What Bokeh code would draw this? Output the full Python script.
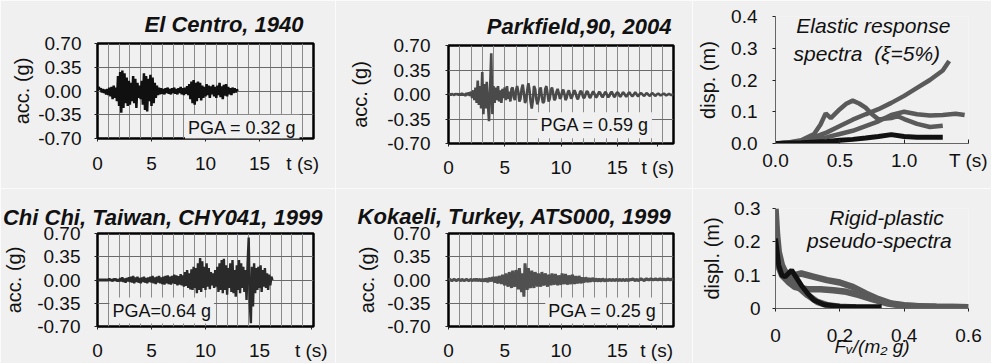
import numpy as np
from bokeh.plotting import figure
from bokeh.layouts import column, row
from bokeh.models import FixedTicker, Label, Range1d, PrintfTickFormatter
from bokeh.embed import file_html
from bokeh.resources import INLINE

FONT = "Liberation Sans"
BG = "#f0f0f0"

# ---------------- accelerograms (g), sampled every DT seconds ----------------
DT = 0.1
el_centro = [
    0.00, 0.06, 0.02, 0.04, -0.02, 0.03, -0.03, 0.02, -0.05, 0.03,
    -0.06, 0.05, -0.08, 0.06, -0.12, 0.08, -0.10, 0.05, -0.15, 0.22,
    -0.22, 0.28, -0.32, 0.30, -0.25, 0.26, -0.18, 0.20, -0.22, 0.15,
    -0.20, 0.12, -0.15, 0.22, -0.18, 0.18, -0.25, 0.12, -0.10, 0.08,
    -0.12, 0.15, -0.20, 0.26, -0.28, 0.22, -0.30, 0.18, -0.15, 0.24,
    -0.22, 0.20, -0.18, 0.12, -0.10, 0.08, -0.06, 0.05, -0.05, 0.04,
    -0.04, 0.03, -0.05, 0.04, -0.03, 0.05, -0.04, 0.03, -0.05, 0.04,
    -0.03, 0.05, -0.04, 0.03, -0.05, 0.04, -0.03, 0.06, -0.05, 0.04,
    -0.06, 0.05, -0.04, 0.07, -0.06, 0.10, -0.12, 0.14, -0.18, 0.16,
    -0.20, 0.12, -0.15, 0.14, -0.10, 0.12, -0.14, 0.08, -0.10, 0.06,
    -0.08, 0.10, -0.06, 0.08, -0.10, 0.07, -0.05, 0.09, -0.08, 0.06,
    -0.10, 0.08, -0.06, 0.12, -0.09, 0.07, -0.12, 0.09, -0.07, 0.10,
    -0.08, 0.06, -0.05, 0.04, -0.06, 0.05, -0.03, 0.04, -0.02, 0.02,
    0.00,
]
parkfield = [
    0.00, 0.01, -0.01, 0.01, 0.00, -0.01, 0.01, 0.00, 0.01, -0.01,
    0.01, -0.01, 0.02, -0.01, 0.01, -0.02, 0.02, -0.01, 0.03, -0.02,
    0.04, -0.05, 0.06, -0.08, 0.10, -0.12, 0.20, -0.15, 0.12, -0.20,
    0.32, -0.28, 0.15, -0.20, 0.18, -0.12, -0.38, 0.10, 0.59, -0.28,
    0.12, -0.12, 0.10, -0.08, 0.12, -0.10, 0.06, -0.12, 0.08, -0.05,
    0.10, -0.08, 0.12, -0.06, 0.04, -0.10, 0.08, 0.10, -0.04, -0.08,
    0.06, 0.12, 0.04, -0.10, -0.06, 0.08, 0.14, 0.02, -0.12, -0.08,
    0.06, 0.16, 0.06, -0.10, -0.20, -0.08, 0.12, 0.08, -0.06, -0.14,
    -0.08, 0.06, 0.10, -0.04, -0.12, -0.10, 0.08, 0.12, 0.02, -0.10,
    -0.06, 0.06, 0.10, 0.02, -0.08, -0.06, 0.04, 0.08, 0.02, -0.06,
    -0.04, 0.04, 0.07, 0.01, -0.08, -0.05, 0.03, 0.06, 0.00, -0.06,
    -0.03, 0.03, 0.06, 0.02, -0.04, -0.07, -0.02, 0.04, 0.05, 0.00,
    -0.05, -0.04, 0.01, 0.05, 0.03, -0.03, -0.05, -0.01, 0.03, 0.04,
    0.00, -0.04, -0.03, 0.01, 0.04, 0.02, -0.02, -0.04, -0.01, 0.03,
    0.03, -0.01, -0.04, -0.02, 0.02, 0.04, 0.01, -0.03, -0.03, 0.01,
    0.03, 0.02, -0.02, -0.03, 0.00, 0.03, 0.02, -0.01, -0.03, -0.01,
    0.02, 0.03, 0.00, -0.02, -0.02, 0.01, 0.03, 0.01, -0.02, -0.02,
    0.01, 0.02, 0.01, -0.01, -0.02, 0.00, 0.02, 0.01, -0.01, -0.02,
    0.00, 0.02, 0.01, -0.01, -0.02, 0.00, 0.01, 0.01, -0.01, -0.01,
    0.00, 0.01, 0.01, -0.01, -0.01, 0.00, 0.01, 0.00, -0.01, 0.00,
    0.00,
]
chi_chi = [
    0.00, 0.01, -0.01, 0.01, -0.01, 0.01, -0.01, 0.01, -0.01, 0.01,
    -0.01, 0.02, -0.01, 0.01, -0.02, 0.02, -0.01, 0.02, -0.02, 0.01,
    -0.02, 0.03, -0.02, 0.04, -0.03, 0.02, -0.04, 0.03, -0.02, 0.04,
    -0.03, 0.05, -0.04, 0.06, -0.05, 0.04, -0.03, 0.05, -0.04, 0.03,
    -0.05, 0.04, -0.03, 0.05, -0.04, 0.03, -0.05, 0.04, -0.03, 0.05,
    -0.04, 0.06, -0.05, 0.04, -0.06, 0.05, -0.04, 0.06, -0.05, 0.04,
    -0.06, 0.05, -0.07, 0.06, -0.05, 0.07, -0.06, 0.05, -0.07, 0.06,
    -0.05, 0.08, -0.06, 0.07, -0.08, 0.06, -0.07, 0.09, -0.08, 0.07,
    -0.10, 0.12, -0.09, 0.15, -0.12, 0.10, -0.14, 0.16, -0.15, 0.20,
    -0.12, 0.18, -0.20, 0.25, -0.15, 0.33, -0.18, 0.28, -0.12, 0.20,
    -0.15, 0.25, -0.10, 0.18, -0.14, 0.12, -0.08, 0.10, -0.12, 0.15,
    -0.10, 0.20, -0.18, 0.25, -0.15, 0.30, -0.20, 0.32, -0.15, 0.22,
    -0.22, 0.18, -0.12, 0.25, -0.18, 0.30, -0.20, 0.15, -0.25, 0.22,
    -0.15, 0.30, -0.20, 0.25, -0.12, 0.20, -0.18, 0.15, -0.30, 0.25,
    0.64, -0.35, -0.65, 0.20, -0.40, 0.25, -0.20, 0.18, -0.15, 0.20,
    -0.12, 0.22, -0.18, 0.15, -0.10, 0.18, -0.12, 0.10, -0.15, 0.08,
    -0.08, 0.05, 0.00,
]
kokaeli = [
    0.00, 0.01, 0.00, -0.01, 0.00, 0.01, 0.00, -0.01, 0.00, 0.01,
    0.00, -0.01, 0.01, 0.00, -0.01, 0.00, 0.01, 0.00, -0.01, 0.00,
    0.01, -0.01, 0.00, 0.01, -0.01, 0.02, -0.01, 0.00, 0.01, -0.02,
    0.01, 0.00, -0.02, 0.02, 0.00, -0.03, 0.03, 0.01, -0.02, 0.04,
    0.02, -0.04, 0.05, -0.02, -0.05, 0.06, 0.02, -0.06, 0.08, -0.03,
    -0.08, 0.10, -0.04, -0.10, 0.12, 0.02, -0.12, 0.14, -0.06, -0.10,
    0.15, 0.05, -0.14, 0.18, -0.05, -0.18, 0.10, -0.25, 0.25, 0.06,
    -0.15, 0.18, -0.08, -0.12, 0.14, 0.02, -0.12, 0.12, 0.04, -0.10,
    0.10, -0.02, -0.10, 0.12, -0.04, -0.08, 0.10, 0.00, -0.10, 0.08,
    0.02, -0.08, 0.10, -0.03, -0.07, 0.09, 0.01, -0.08, 0.07, -0.02,
    -0.07, 0.10, -0.02, -0.06, 0.09, 0.00, -0.07, 0.07, -0.01, -0.06,
    0.08, 0.01, -0.06, 0.06, -0.02, -0.05, 0.06, 0.00, -0.05, 0.04,
    -0.02, -0.03, 0.04, 0.00, -0.03, 0.03, -0.01, -0.02, 0.03, 0.00,
    -0.02, 0.02, 0.00, -0.02, 0.02, -0.01, -0.01, 0.02, 0.00, -0.02,
    0.01, 0.00, -0.01, 0.01, 0.00, -0.01, 0.01, 0.00, -0.01, 0.01,
    0.00, -0.01, 0.01, 0.00, -0.01, 0.01, 0.00, -0.01, 0.01, 0.00,
    -0.01, 0.01, 0.00, 0.01, 0.02, 0.00, -0.01, 0.01, 0.00, -0.01,
    0.01, 0.02, 0.01, 0.00, -0.01, 0.01, 0.02, 0.01, 0.00, 0.01,
    0.02, 0.01, 0.00, 0.01, 0.02, 0.01, 0.00, 0.01, 0.02, 0.01,
    0.00, 0.01, 0.01, 0.00, 0.01, 0.02, 0.01, 0.00, 0.01, 0.01,
    0.00,
]
acc_yticks = [-0.70, -0.35, 0.0, 0.35, 0.70]
acc_xticks = [0, 5, 10, 15]
acc_xlabels = ["0", "5", "10", "15"]
grid_seconds = [0, 1, 2, 3, 4, 5, 6, 7, 8, 9, 10, 11, 12, 13, 14, 15, 16, 17, 18, 19, 20]

# ---------------- elastic response spectra (T in s, disp in m) ----------------
spec_a_T = [0.0, 0.1, 0.2, 0.3, 0.4, 0.5, 0.6, 0.7, 0.8, 0.9, 1.0, 1.1, 1.2, 1.3, 1.35]
spec_a_d = [0.0, 0.002, 0.008, 0.02, 0.035, 0.055, 0.075, 0.092, 0.108, 0.128, 0.15, 0.175, 0.2, 0.23, 0.26]
spec_b_T = [0.0, 0.1, 0.2, 0.3, 0.35, 0.39, 0.43, 0.5, 0.55, 0.6, 0.65, 0.7, 0.75, 0.8, 0.9, 0.95, 1.0, 1.1, 1.2, 1.3]
spec_b_d = [0.0, 0.003, 0.01, 0.03, 0.06, 0.095, 0.08, 0.108, 0.125, 0.135, 0.126, 0.113, 0.092, 0.076, 0.08, 0.086, 0.077, 0.062, 0.052, 0.056]
spec_c_T = [0.0, 0.2, 0.3, 0.4, 0.5, 0.6, 0.7, 0.8, 0.9, 1.0, 1.1, 1.2, 1.3, 1.4, 1.47]
spec_c_d = [0.0, 0.005, 0.012, 0.02, 0.03, 0.04, 0.055, 0.07, 0.09, 0.1, 0.092, 0.088, 0.09, 0.094, 0.09]
spec_d_T = [0.0, 0.2, 0.4, 0.5, 0.6, 0.7, 0.8, 0.9, 1.0, 1.1, 1.2, 1.3]
spec_d_d = [0.0, 0.002, 0.006, 0.01, 0.013, 0.017, 0.022, 0.028, 0.022, 0.02, 0.02, 0.02]

# ---------------- rigid-plastic pseudo-spectra (Fy/(m2 g), displ in m) ----------------
rp_g1_F = [0.0, 0.005, 0.01, 0.02, 0.03, 0.05, 0.07, 0.1, 0.13, 0.16, 0.2, 0.25]
rp_g1_d = [0.3, 0.22, 0.17, 0.13, 0.11, 0.085, 0.065, 0.04, 0.02, 0.01, 0.005, 0.003]
rp_g2_F = [0.0, 0.01, 0.02, 0.04, 0.06, 0.08, 0.12, 0.16, 0.2, 0.24, 0.28, 0.32, 0.36, 0.4, 0.45, 0.5, 0.6]
rp_g2_d = [0.2, 0.15, 0.12, 0.1, 0.1, 0.105, 0.095, 0.085, 0.078, 0.065, 0.045, 0.028, 0.015, 0.01, 0.006, 0.005, 0.004]
rp_g3_F = [0.0, 0.02, 0.04, 0.06, 0.08, 0.1, 0.14, 0.18, 0.22, 0.26, 0.3, 0.35, 0.4, 0.5, 0.6]
rp_g3_d = [0.15, 0.1, 0.08, 0.065, 0.06, 0.058, 0.058, 0.055, 0.05, 0.04, 0.028, 0.015, 0.008, 0.005, 0.004]
rp_k_F = [0.0, 0.005, 0.01, 0.02, 0.03, 0.04, 0.05, 0.06, 0.07, 0.08, 0.1, 0.12, 0.15, 0.2, 0.25, 0.33]
rp_k_d = [0.21, 0.17, 0.13, 0.1, 0.095, 0.105, 0.115, 0.1, 0.085, 0.07, 0.045, 0.025, 0.012, 0.006, 0.005, 0.005]

TICK_SIZE = "19px"


def style_axis(ax):
    ax.major_label_text_font = FONT
    ax.major_label_text_font_size = TICK_SIZE
    ax.major_label_text_color = "#111111"
    ax.axis_label_text_font = FONT
    ax.axis_label_text_color = "#111111"
    ax.minor_tick_line_color = None
    ax.major_tick_line_color = "#222222"


def make_accel(title, values, color, lw, w, h, bl, br, bt, bb, tpos, t_off, t_stand,
               x_stand, y_stand, ylab_stand, pga, pga_x, pga_y):
    p = figure(width=w, height=h, x_range=Range1d(0, 20), y_range=Range1d(-0.7, 0.7),
               output_backend="svg", toolbar_location=None,
               min_border_left=bl, min_border_right=br, min_border_top=bt, min_border_bottom=bb,
               background_fill_color=BG, border_fill_color=BG)
    p.outline_line_color = "black"
    p.outline_line_width = 2.5
    p.outline_line_alpha = 1.0
    p.xgrid.ticker = FixedTicker(ticks=grid_seconds)
    p.xgrid.grid_line_color = "#8a8a8a"
    p.ygrid.ticker = FixedTicker(ticks=[-0.35, 0.0, 0.35])
    p.ygrid.grid_line_color = "#6a6a6a"
    t = np.arange(len(values)) * DT
    p.line(t, values, line_color=color, line_width=lw)

    p.title.text = title
    p.title.text_font = FONT
    p.title.text_font_size = "22px"
    p.title.text_font_style = "bold italic"
    p.title.text_color = "#111111"
    p.title.align = "right"
    p.title.offset = t_off
    p.title.standoff = t_stand

    style_axis(p.xaxis)
    style_axis(p.yaxis)
    p.xaxis.ticker = FixedTicker(ticks=acc_xticks + [tpos])
    ov = {k: s for k, s in zip(acc_xticks, acc_xlabels)}
    ov[tpos] = "t (s)"
    p.xaxis.major_label_overrides = ov
    p.xaxis.axis_line_color = None
    p.xaxis.major_tick_out = 3
    p.xaxis.major_tick_in = 0
    p.xaxis.major_label_standoff = x_stand
    p.yaxis.ticker = FixedTicker(ticks=acc_yticks)
    p.yaxis.formatter = PrintfTickFormatter(format="%.2f")
    p.yaxis.axis_line_color = None
    p.yaxis.major_tick_out = 3
    p.yaxis.major_tick_in = 0
    p.yaxis.major_label_standoff = y_stand
    p.yaxis.axis_label = "acc. (g)"
    p.yaxis.axis_label_text_font_size = "20px"
    p.yaxis.axis_label_text_font_style = "normal"
    p.yaxis.axis_label_standoff = ylab_stand

    p.add_layout(Label(x=pga_x, y=pga_y, text=pga, text_font=FONT, text_font_size="18px",
                       text_color="#111111", text_align="left", text_baseline="middle",
                       background_fill_color=BG, background_fill_alpha=1.0, padding=3))
    return p


p1 = make_accel("El Centro, 1940", el_centro, "#101010", 2.5, 335, 188, 94, 22, 43, 50,
                19.0, 10, 13, 11, 13, 2, "PGA = 0.32 g", 8.1, -0.54)
p4 = make_accel("Chi Chi, Taiwan, CHY041, 1999", chi_chi, "#2a2a2a", 2.4, 335, 175, 95, 22, 45, 35,
                19.8, -9, 7, 10, 14, 9, "PGA=0.64 g", 1.1, -0.46)
p2 = make_accel("Parkfield,90, 2004", parkfield, "#4a4a4a", 2.6, 357, 188, 113, 19, 45, 45,
                18.6, 2, 13, 10, 15, 13, "PGA = 0.59 g", 7.9, -0.44)
p5 = make_accel("Kokaeli, Turkey, ATS000, 1999", kokaeli, "#505050", 3.0, 357, 175, 106, 17, 45, 35,
                18.5, 2, 9, 10, 15, 6, "PGA = 0.25 g", 8.6, -0.46)

# ---- elastic spectra ----
GRAY = "#5a5a5a"
p3 = figure(width=299, height=188, x_range=Range1d(0, 1.5), y_range=Range1d(0, 0.4), title=None,
            output_backend="svg", toolbar_location=None,
            min_border_left=78, min_border_right=23, min_border_top=16, min_border_bottom=45,
            background_fill_color=BG, border_fill_color=BG)
p3.outline_line_color = None
p3.grid.visible = False
p3.line(spec_a_T, spec_a_d, line_color=GRAY, line_width=4.5)
p3.line(spec_b_T, spec_b_d, line_color=GRAY, line_width=4.5)
p3.line(spec_c_T, spec_c_d, line_color=GRAY, line_width=4.5)
p3.line(spec_d_T, spec_d_d, line_color="#111111", line_width=5)
style_axis(p3.xaxis)
style_axis(p3.yaxis)
p3.xaxis.ticker = FixedTicker(ticks=[0.0, 0.5, 1.0, 1.5])
p3.xaxis.major_label_overrides = {0.0: "0.0", 0.5: "0.5", 1.0: "1.0", 1.5: "T (s)"}
p3.xaxis.axis_line_color = "#666666"
p3.xaxis.major_tick_in = 4
p3.xaxis.major_tick_out = 0
p3.xaxis.major_label_standoff = 6
p3.yaxis.ticker = FixedTicker(ticks=[0.0, 0.1, 0.2, 0.3, 0.4])
p3.yaxis.major_label_overrides = {0.0: "0.0", 0.1: "0.1", 0.2: "0.2", 0.3: "0.3", 0.4: "0.4"}
p3.yaxis.axis_line_color = "#666666"
p3.yaxis.major_tick_in = 0
p3.yaxis.major_tick_out = 3
p3.yaxis.major_label_standoff = 15
p3.yaxis.axis_label = "disp. (m)"
p3.yaxis.axis_label_text_font_size = "20px"
p3.yaxis.axis_label_text_font_style = "normal"
p3.yaxis.axis_label_standoff = 9
p3.add_layout(Label(x=0.76, y=0.373, text="Elastic response", text_font=FONT, text_font_size="21px",
                    text_font_style="italic", text_color="#111111", text_align="center", text_baseline="middle"))
p3.add_layout(Label(x=0.71, y=0.285, text="spectra\u00a0\u00a0(ξ=5%)", text_font=FONT, text_font_size="21px",
                    text_font_style="italic", text_color="#111111", text_align="center", text_baseline="middle"))

# ---- rigid-plastic pseudo-spectra ----
p6 = figure(width=299, height=175, x_range=Range1d(0, 0.6), y_range=Range1d(0, 0.3), title=None,
            output_backend="svg", toolbar_location=None,
            min_border_left=83, min_border_right=21, min_border_top=20, min_border_bottom=55,
            background_fill_color=BG, border_fill_color=BG)
p6.outline_line_color = None
p6.grid.visible = False
p6.line(rp_g1_F, rp_g1_d, line_color=GRAY, line_width=6.5)
p6.line(rp_g2_F, rp_g2_d, line_color=GRAY, line_width=6.5)
p6.line(rp_g3_F, rp_g3_d, line_color=GRAY, line_width=6.5)
p6.line(rp_k_F, rp_k_d, line_color="#111111", line_width=5)
style_axis(p6.xaxis)
style_axis(p6.yaxis)
p6.xaxis.ticker = FixedTicker(ticks=[0.0, 0.2, 0.4, 0.6])
p6.xaxis.major_label_overrides = {0.0: "0", 0.2: "0.2", 0.4: "0.4", 0.6: "0.6"}
p6.xaxis.axis_line_color = "#666666"
p6.xaxis.major_tick_in = 0
p6.xaxis.major_tick_out = 3
p6.xaxis.major_label_standoff = 17
p6.xaxis.axis_label = "Fᵥ/(m₂ g)"
p6.xaxis.axis_label_text_font_size = "19px"
p6.xaxis.axis_label_text_font_style = "italic"
p6.xaxis.axis_label_standoff = -9
p6.yaxis.ticker = FixedTicker(ticks=[0.0, 0.1, 0.2, 0.3])
p6.yaxis.major_label_overrides = {0.0: "0", 0.1: "0.1", 0.2: "0.2", 0.3: "0.3"}
p6.yaxis.axis_line_color = "#666666"
p6.yaxis.major_tick_in = 0
p6.yaxis.major_tick_out = 3
p6.yaxis.major_label_standoff = 12
p6.yaxis.axis_label = "displ. (m)"
p6.yaxis.axis_label_text_font_size = "20px"
p6.yaxis.axis_label_text_font_style = "normal"
p6.yaxis.axis_label_standoff = 8
p6.add_layout(Label(x=0.345, y=0.272, text="Rigid-plastic", text_font=FONT, text_font_size="21px",
                    text_font_style="italic", text_color="#111111", text_align="center", text_baseline="middle"))
p6.add_layout(Label(x=0.323, y=0.205, text="pseudo-spectra", text_font=FONT, text_font_size="21px",
                    text_font_style="italic", text_color="#111111", text_align="center", text_baseline="middle"))

layout = row(column(p1, p4), column(p2, p5), column(p3, p6))
open("out.html", "w").write(file_html(layout, INLINE))
